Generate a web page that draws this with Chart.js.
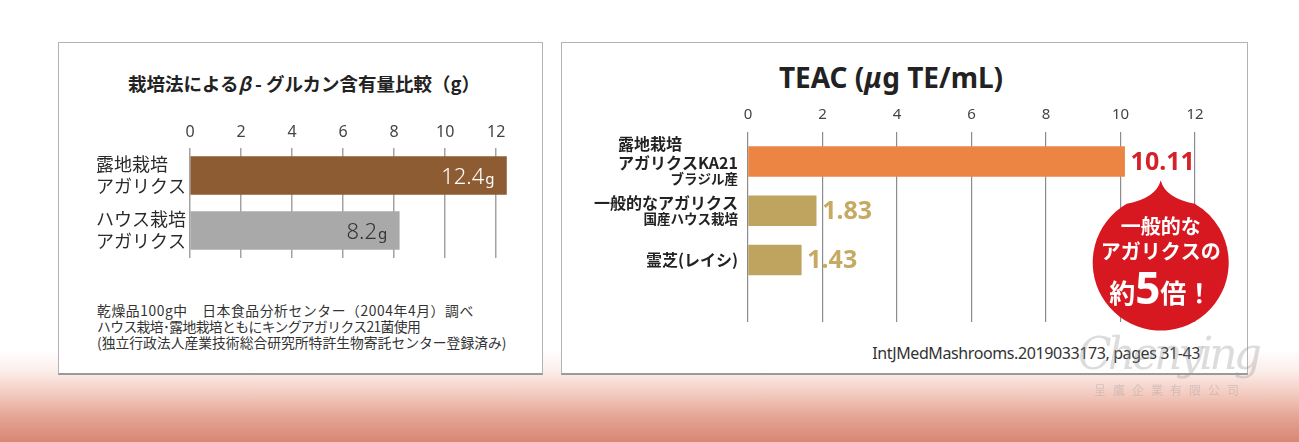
<!DOCTYPE html>
<html lang="ja">
<head>
<meta charset="utf-8">
<title>β-グルカン / TEAC</title>
<script src="https://cdn.jsdelivr.net/npm/chart.js@4.4.1/dist/chart.umd.min.js"></script>
<style>
    html, body { margin: 0; padding: 0; }
    body {
        width: 1299px; height: 442px; overflow: hidden; position: relative;
        font-family: "Noto Sans CJK JP", "Noto Sans", sans-serif; color: #333;
        background: linear-gradient(to bottom, #ffffff 0px, #ffffff 350px, #fcefeb 370px,
            #f2c9be 395px, #e4a392 418px, #d88773 442px);
    }
    .panel {
        position: absolute; background: #fff; box-sizing: border-box;
        border: 1px solid #b3b3b3; border-bottom: 2px solid #9a9a9a;
    }
    #panelL { left: 58px; top: 42px; width: 485px; height: 333px; }
    #panelR { left: 561px; top: 42px; width: 687px; height: 333px; }
    canvas { position: absolute; }
    #chartL { left: 58px; top: 100px; }
    #chartR { left: 561px; top: 95px; }
    .title { position: absolute; font-weight: bold; text-align: center; white-space: nowrap; color: #222; }
    #titleL { left: 62px; width: 484px; top: 70px; height: 26px; line-height: 26px; font-size: 18.5px; }
    #titleR { left: 741px; width: 300px; top: 59px; height: 36px; line-height: 36px; font-size: 28px;
        font-family: "Noto Sans", sans-serif; }
    #notes { position: absolute; left: 97px; top: 302px; font-size: 13.8px; line-height: 16px; white-space: nowrap; color: #333; }
    #notes .wide { letter-spacing: 0.6px; }
    #notes .tight { letter-spacing: -0.6px; }
    #source { position: absolute; right: 99px; top: 343px; font-size: 16px; line-height: 20px;
        font-family: "Noto Sans", sans-serif; letter-spacing: -0.4px; color: #333; white-space: nowrap; }
    #mark { position: absolute; left: 1078px; top: 326px; pointer-events: none; color: rgba(150,150,150,0.33); }
    #mark .script { font-family: "DejaVu Serif", serif; font-style: italic; font-size: 44px; line-height: 56px; letter-spacing: -4px; }
    #mark .corp { font-size: 12px; letter-spacing: 7px; margin-left: 16px; line-height: 16px; }
</style>
</head>
<body>
<div class="panel" id="panelL"></div>
<div class="panel" id="panelR"></div>

<div class="title" id="titleL">栽培法による<i>β</i> - グルカン含有量比較（g）</div>
<div class="title" id="titleR">TEAC (<i>μ</i>g TE/mL)</div>

<canvas id="chartL" width="484" height="180"></canvas>
<canvas id="chartR" width="686" height="240"></canvas>

<div id="notes">
    <span class="wide">乾燥品100g中　日本食品分析センター（2004年4月）調べ</span><br>
    <span class="tight">ハウス栽培･露地栽培ともにキングアガリクス21菌使用</span><br>
    (独立行政法人産業技術総合研究所特許生物寄託センター登録済み)
</div>
<div id="source">IntJMedMashrooms.2019033173, pages 31-43</div>

<div id="mark"><div class="script">Chenying</div><div class="corp">呈鷹企業有限公司</div></div>

<script>
// ---- data ----
var betaLabels = [["露地栽培", "アガリクス"], ["ハウス栽培", "アガリクス"]];
var betaValues = [12.4, 8.2];
var betaTicks = [0, 2, 4, 6, 8, 10, 12];
var betaUnit = "g";

var teacLabels = [["露地栽培", "アガリクスKA21", "ブラジル産"], ["一般的なアガリクス", "国産ハウス栽培"], ["霊芝(レイシ)"]];
var teacValues = [10.11, 1.83, 1.43];
var teacTicks = [0, 2, 4, 6, 8, 10, 12];
var bubbleLines = ["一般的な", "アガリクスの"];
var bubbleLast = ["約", "5", "倍！"];

var JP = '"Noto Sans CJK JP", sans-serif';
var NUM = '"Noto Sans", sans-serif';

// left chart: values drawn inside the bar end, "g" smaller
var gramLabels = {
    id: 'gramLabels',
    afterDatasetsDraw: function (chart) {
        var ctx = chart.ctx;
        var colors = ['#ffffff', '#333333'];
        chart.getDatasetMeta(0).data.forEach(function (bar, i) {
            ctx.save();
            ctx.textAlign = 'right';
            ctx.textBaseline = 'alphabetic';
            ctx.fillStyle = colors[i];
            ctx.font = '15px ' + NUM;
            var x = bar.x - 12;
            ctx.fillText(betaUnit, x, bar.y + 8);
            var gw = ctx.measureText(betaUnit).width;
            ctx.font = '300 22px ' + NUM;
            ctx.fillText(String(betaValues[i]), x - gw - 1, bar.y + 8);
            ctx.restore();
        });
    }
};

// right chart: category text, value text and the red balloon
var teacDecor = {
    id: 'teacDecor',
    afterDatasetsDraw: function (chart) {
        var ctx = chart.ctx;
        var meta = chart.getDatasetMeta(0);
        var right = chart.chartArea.left - 10;
        ctx.save();
        ctx.fillStyle = '#222';
        ctx.textBaseline = 'middle';
        meta.data.forEach(function (bar, i) {
            var lines = teacLabels[i];
            var main = lines.length > 1 ? lines.slice(0, lines.length - 1) : lines;
            var sub = lines.length > 1 ? lines[lines.length - 1] : null;
            var ys = [];
            var y = 0;
            main.forEach(function () { ys.push(y); y += 19; });
            if (sub) { y -= 3; ys.push(y); }
            var mid = (ys[0] + ys[ys.length - 1]) / 2;
            var top = bar.y - mid;
            ctx.font = 'bold 16px ' + JP;
            var maxW = 0;
            main.forEach(function (t) { maxW = Math.max(maxW, ctx.measureText(t).width); });
            ctx.textAlign = 'left';
            main.forEach(function (t, k) { ctx.fillText(t, right - maxW, top + ys[k]); });
            if (sub) {
                ctx.font = 'bold 13.5px ' + JP;
                ctx.textAlign = 'right';
                ctx.fillText(sub, right, top + ys[ys.length - 1]);
            }
        });
        ctx.restore();

        var valueColors = ['#d5222a', '#c6a962', '#c6a962'];
        var firstCenter = null;
        meta.data.forEach(function (bar, i) {
            ctx.save();
            ctx.font = 'bold 25px ' + NUM;
            ctx.textAlign = 'left';
            ctx.textBaseline = 'middle';
            ctx.fillStyle = valueColors[i];
            var t = String(teacValues[i]);
            ctx.fillText(t, bar.x + 6, bar.y + 1);
            if (i === 0) firstCenter = { x: bar.x + 6 + ctx.measureText(t).width / 2, y: bar.y };
            ctx.restore();
        });

        // balloon hanging from the top value
        var cx = firstCenter.x - 2, tipY = firstCenter.y + 19, cy = firstCenter.y + 101, r = 68;
        var a = Math.PI / 6;
        ctx.save();
        ctx.fillStyle = '#d81820';
        ctx.beginPath();
        ctx.moveTo(cx, tipY);
        ctx.quadraticCurveTo(cx - 5, cy - r + 4, cx - r * Math.sin(a), cy - r * Math.cos(a));
        ctx.arc(cx, cy, r, -Math.PI / 2 - a, -Math.PI / 2 + a, true);
        ctx.quadraticCurveTo(cx + 5, cy - r + 4, cx, tipY);
        ctx.fill();

        ctx.fillStyle = '#fff';
        ctx.textAlign = 'center';
        ctx.textBaseline = 'middle';
        ctx.font = 'bold 20px ' + JP;
        ctx.fillText(bubbleLines[0], cx, cy - 36);
        ctx.fillText(bubbleLines[1], cx, cy - 11);
        ctx.textBaseline = 'alphabetic';
        ctx.textAlign = 'left';
        var f1 = 'bold 26px ' + JP, f2 = 'bold 44px ' + NUM;
        ctx.font = f1; var w0 = ctx.measureText(bubbleLast[0]).width, w2 = ctx.measureText(bubbleLast[2]).width;
        ctx.font = f2; var w1 = ctx.measureText(bubbleLast[1]).width;
        var x = cx - (w0 + w1 + w2) / 2, base = cy + 40;
        ctx.font = f1; ctx.fillText(bubbleLast[0], x, base);
        ctx.font = f2; ctx.fillText(bubbleLast[1], x + w0, base + 1);
        ctx.font = f1; ctx.fillText(bubbleLast[2], x + w0 + w1, base);
        ctx.restore();
    }
};

Chart.defaults.font.family = NUM;

new Chart(document.getElementById('chartL').getContext('2d'), {
    type: 'bar',
    data: {
        labels: betaLabels,
        datasets: [{
            data: betaValues,
            backgroundColor: ['#8d5c33', '#a9a9a9'],
            barThickness: 38
        }]
    },
    options: {
        responsive: false,
        animation: false,
        indexAxis: 'y',
        layout: { padding: { left: 38, right: 33, top: 0, bottom: 13 } },
        plugins: { legend: { display: false }, tooltip: { enabled: false } },
        scales: {
            x: {
                position: 'top', min: 0, max: 12.5,
                afterBuildTicks: function (s) { s.ticks = betaTicks.map(function (v) { return { value: v }; }); },
                afterFit: function (s) { s.height = 48; },
                ticks: { color: '#444', font: { size: 16 }, padding: 6 },
                grid: { color: '#a3a3a3', lineWidth: 1.5, drawTicks: false },
                border: { display: false }
            },
            y: {
                afterFit: function (s) { s.width = 94; },
                ticks: { crossAlign: 'far', color: '#2a2a2a', font: { family: JP, size: 18, lineHeight: 1.22 }, padding: 0 },
                grid: { display: false },
                border: { display: false }
            }
        }
    },
    plugins: [gramLabels]
});

new Chart(document.getElementById('chartR').getContext('2d'), {
    type: 'bar',
    data: {
        datasets: [{
            data: teacValues.map(function (v, i) { return { x: v, y: i }; }),
            backgroundColor: ['#ec8443', '#bfa45f', '#bfa45f'],
            barThickness: 30
        }]
    },
    options: {
        responsive: false,
        animation: false,
        indexAxis: 'y',
        layout: { padding: { left: 187, right: 52, top: 0, bottom: 13 } },
        plugins: { legend: { display: false }, tooltip: { enabled: false } },
        scales: {
            x: {
                position: 'top', min: 0, max: 12,
                afterBuildTicks: function (s) { s.ticks = teacTicks.map(function (v) { return { value: v }; }); },
                afterFit: function (s) { s.height = 37; },
                ticks: { color: '#444', font: { size: 15 }, padding: 8 },
                grid: { color: '#8c8c8c', lineWidth: 1.2, drawTicks: false },
                border: { display: false }
            },
            y: { type: 'linear', reverse: true, offset: false, min: -0.6, max: 3.26, display: false }
        }
    },
    plugins: [teacDecor]
});
</script>
</body>
</html>
